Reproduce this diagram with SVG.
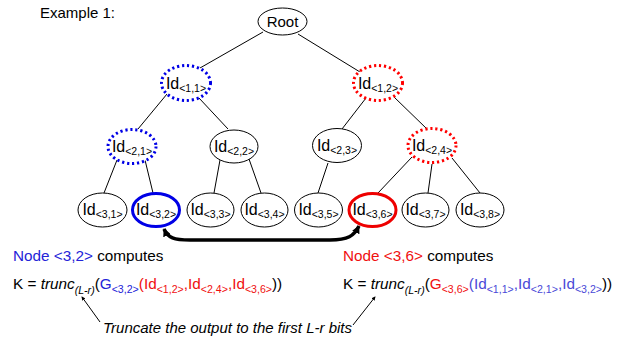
<svg xmlns="http://www.w3.org/2000/svg" width="626" height="340" viewBox="0 0 626 340">
<style>
text{font-family:"Liberation Sans",Arial,sans-serif;fill:#000}
.lbl{font-size:16px;text-anchor:middle}
.sub{font-size:10.5px}
.n{fill:#fff;stroke:#000;stroke-width:1}
.db{fill:#fff;stroke:#0000e6;stroke-width:3;stroke-dasharray:2.2 2.8}
.dr{fill:#fff;stroke:#ff0000;stroke-width:3;stroke-dasharray:2.2 2.8}
.sb{fill:#fff;stroke:#0000e6;stroke-width:3}
.sr{fill:#fff;stroke:#ee0000;stroke-width:3}
.e{stroke:#000;stroke-width:1;fill:none}
.t{font-size:15.3px}
.ts{font-size:10.6px}
.blue{fill:#2424d8}
.lb{fill:#4a4ad8}
.red{fill:#f01010}
.it{font-style:italic}
</style>
<defs>
<marker id="ah" viewBox="0 0 10 10" refX="9" refY="5" markerWidth="8" markerHeight="8" orient="auto-start-reverse" markerUnits="userSpaceOnUse"><path d="M0,0 L10,5 L0,10 z" fill="#000"/></marker>
<marker id="bh" viewBox="0 0 10 10" refX="8" refY="5" markerWidth="4" markerHeight="4" orient="auto-start-reverse"><path d="M0,0 L10,5 L0,10 z" fill="#000"/></marker>
</defs>
<text x="40" y="18" style="font-size:15px">Example 1:</text>
<g id="connectors">
<line class="e" x1="263" y1="32" x2="200" y2="68"/>
<line class="e" x1="298" y1="34" x2="360" y2="72"/>
<line class="e" x1="167" y1="94" x2="138" y2="129"/>
<line class="e" x1="199" y1="98" x2="228" y2="129"/>
<line class="e" x1="366" y1="98" x2="342" y2="129"/>
<line class="e" x1="394" y1="97" x2="427" y2="129"/>
<line class="e" x1="117" y1="160" x2="104" y2="193"/>
<line class="e" x1="145" y1="160" x2="153" y2="193"/>
<line class="e" x1="220" y1="160" x2="214" y2="193"/>
<line class="e" x1="249" y1="159" x2="261" y2="193"/>
<line class="e" x1="328" y1="163" x2="318" y2="193"/>
<line class="e" x1="412" y1="157" x2="378" y2="193"/>
<line class="e" x1="432" y1="164" x2="428" y2="193"/>
<line class="e" x1="452" y1="158" x2="480" y2="193"/>
<path d="M164,229 C168,238 174,240 190,240 L330,240 C348,240 354,236 359,226" fill="none" stroke="#000" stroke-width="3.5" marker-start="url(#ah)" marker-end="url(#ah)"/>
<line x1="100" y1="322" x2="82" y2="297" stroke="#000" stroke-width="1" marker-end="url(#bh)"/>
<line x1="353" y1="325" x2="375" y2="297" stroke="#000" stroke-width="1" marker-end="url(#bh)"/>
</g>
<g id="root"><ellipse class="n" cx="282.5" cy="21.5" rx="24.5" ry="13.5"/><text class="lbl" x="282.5" y="27" style="font-size:15px">Root</text></g>
<g id="id11"><ellipse class="db" cx="186" cy="83" rx="24.5" ry="17.5"/><text class="lbl" x="186" y="89">Id<tspan class="sub" dy="3">&lt;1,1&gt;</tspan></text></g>
<g id="id12"><ellipse class="dr" cx="378" cy="83" rx="24.5" ry="17.5"/><text class="lbl" x="378" y="89">Id<tspan class="sub" dy="3">&lt;1,2&gt;</tspan></text></g>
<g id="id21"><ellipse class="db" cx="132" cy="146.5" rx="24" ry="17"/><text class="lbl" x="132" y="152">Id<tspan class="sub" dy="3">&lt;2,1&gt;</tspan></text></g>
<g id="id22"><ellipse class="n" cx="234" cy="146.5" rx="24" ry="16.5"/><text class="lbl" x="234" y="152">Id<tspan class="sub" dy="3">&lt;2,2&gt;</tspan></text></g>
<g id="id23"><ellipse class="n" cx="337" cy="145.5" rx="24.5" ry="17"/><text class="lbl" x="337" y="151">Id<tspan class="sub" dy="3">&lt;2,3&gt;</tspan></text></g>
<g id="id24"><ellipse class="dr" cx="432" cy="145.5" rx="24" ry="17"/><text class="lbl" x="432" y="151">Id<tspan class="sub" dy="3">&lt;2,4&gt;</tspan></text></g>
<g id="id31"><ellipse class="n" cx="102.5" cy="210" rx="24.5" ry="17"/><text class="lbl" x="102.5" y="215">Id<tspan class="sub" dy="3">&lt;3,1&gt;</tspan></text></g>
<g id="id32"><ellipse class="sb" cx="156" cy="210" rx="23.5" ry="16.5"/><text class="lbl" x="156" y="215">Id<tspan class="sub" dy="3">&lt;3,2&gt;</tspan></text></g>
<g id="id33"><ellipse class="n" cx="210.5" cy="210" rx="23.5" ry="17"/><text class="lbl" x="210.5" y="215">Id<tspan class="sub" dy="3">&lt;3,3&gt;</tspan></text></g>
<g id="id34"><ellipse class="n" cx="264.5" cy="210" rx="23.5" ry="17"/><text class="lbl" x="264.5" y="215">Id<tspan class="sub" dy="3">&lt;3,4&gt;</tspan></text></g>
<g id="id35"><ellipse class="n" cx="318.5" cy="210" rx="24" ry="17"/><text class="lbl" x="318.5" y="215">Id<tspan class="sub" dy="3">&lt;3,5&gt;</tspan></text></g>
<g id="id36"><ellipse class="sr" cx="372.5" cy="210" rx="23.5" ry="16.5"/><text class="lbl" x="372.5" y="215">Id<tspan class="sub" dy="3">&lt;3,6&gt;</tspan></text></g>
<g id="id37"><ellipse class="n" cx="425.5" cy="210" rx="23.5" ry="17"/><text class="lbl" x="425.5" y="215">Id<tspan class="sub" dy="3">&lt;3,7&gt;</tspan></text></g>
<g id="id38"><ellipse class="n" cx="480" cy="210" rx="24" ry="17"/><text class="lbl" x="480" y="215">Id<tspan class="sub" dy="3">&lt;3,8&gt;</tspan></text></g>
<g id="text-left">
<text class="t" x="13" y="261"><tspan class="blue">Node &lt;3,2&gt;</tspan> computes</text>
<text class="t" x="13" y="289">K = <tspan class="it">trunc</tspan><tspan class="ts it" dy="5">(L-r)</tspan><tspan dy="-5">(</tspan><tspan class="blue">G</tspan><tspan class="ts blue" dy="4">&lt;3,2&gt;</tspan><tspan class="red" dy="-4">(Id</tspan><tspan class="ts red" dy="4">&lt;1,2&gt;</tspan><tspan class="red" dy="-4">,Id</tspan><tspan class="ts red" dy="4">&lt;2,4&gt;</tspan><tspan class="red" dy="-4">,Id</tspan><tspan class="ts red" dy="4">&lt;3,6&gt;</tspan><tspan dy="-4">))</tspan></text>
<text class="t it" x="103" y="333" style="font-size:15px">Truncate the output to the first L-r bits</text>
</g>
<g id="text-right">
<text class="t" x="343" y="261"><tspan class="red">Node &lt;3,6&gt;</tspan> computes</text>
<text class="t" x="343" y="289">K = <tspan class="it">trunc</tspan><tspan class="ts it" dy="5">(L-r)</tspan><tspan dy="-5">(</tspan><tspan class="red">G</tspan><tspan class="ts red" dy="4">&lt;3,6&gt;</tspan><tspan class="lb" dy="-4">(Id</tspan><tspan class="ts lb" dy="4">&lt;1,1&gt;</tspan><tspan class="lb" dy="-4">,Id</tspan><tspan class="ts lb" dy="4">&lt;2,1&gt;</tspan><tspan class="lb" dy="-4">,Id</tspan><tspan class="ts lb" dy="4">&lt;3,2&gt;</tspan><tspan dy="-4">))</tspan></text>
</g>
</svg>
